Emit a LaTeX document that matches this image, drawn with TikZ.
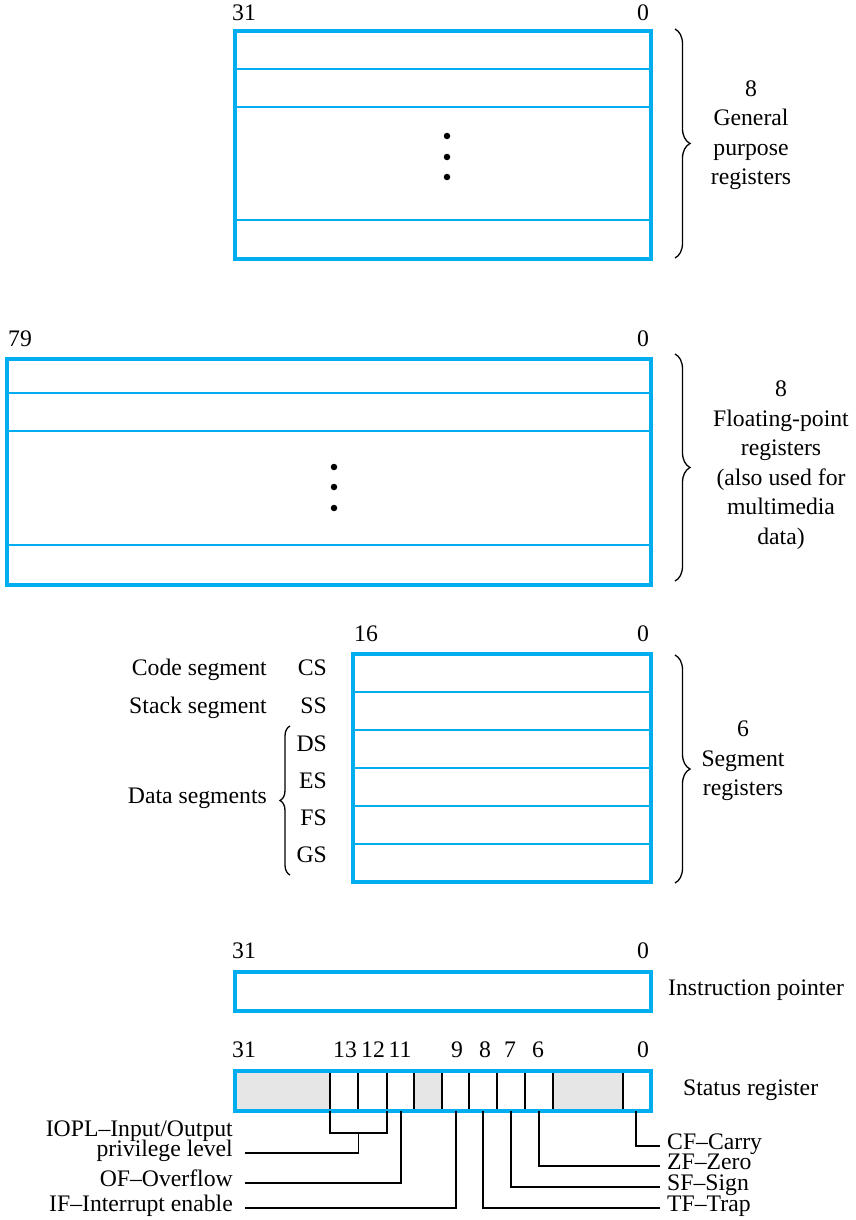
\documentclass[tikz,border=0pt]{standalone}
\usepackage{fontspec}
\setmainfont{Liberation Serif}
\usetikzlibrary{decorations.pathreplacing,calc}
\definecolor{regblue}{RGB}{0,174,239}
\definecolor{flaggray}{RGB}{230,230,230}
\begin{document}
\begin{tikzpicture}[x=1pt,y=-1pt,
  every node/.style={font=\fontsize{23.7}{29.5}\selectfont, inner sep=0pt},
  regframe/.style={draw=regblue, line width=4pt},
  regline/.style={draw=regblue, line width=1.6pt},
  divider/.style={draw=black, line width=1.3pt},
  lbl/.style={text height=0.68em, text depth=0pt},
  lead/.style={draw=black, line width=1.3pt},
  bracestyle/.style={decorate, decoration={brace, amplitude=15pt}, line width=1.3pt},
  dotmark/.style={circle, fill=black, minimum size=6.5pt, inner sep=0pt}
]
\useasboundingbox (0,0) rectangle (855,1220);

% ---------- General purpose registers ----------
\foreach \yy in {69,107,220} \draw[regline] (235,\yy) -- (651,\yy);
\draw[regframe] (235,31.5) rectangle (651,258.5);
\node[lbl] (g31) at (244,17) {31};
\node[lbl] (g0) at (643,17) {0};
\node[dotmark] (gd1) at (447,136) {};
\node[dotmark] (gd2) at (447,157) {};
\node[dotmark] (gd3) at (447,177) {};
\draw[bracestyle] (675,29) -- (675,258);
\node[align=center] (gtxt) at (751,135) {8\\General\\purpose\\registers};

% ---------- Floating-point registers ----------
\foreach \yy in {393,431,545} \draw[regline] (7,\yy) -- (651,\yy);
\draw[regframe] (7,359) rectangle (651,585);
\node[lbl] (f79) at (20,343) {79};
\node[lbl] (f0) at (643,343) {0};
\node[dotmark] (fd1) at (334,467) {};
\node[dotmark] (fd2) at (334,487) {};
\node[dotmark] (fd3) at (334,508) {};
\draw[bracestyle] (675,354) -- (675,581);
\node[align=center] (ftxt) at (781,465) {8\\Floating-point\\registers\\(also used for\\multimedia\\data)};

% ---------- Segment registers ----------
\foreach \yy in {692,730,768,806,844} \draw[regline] (353,\yy) -- (651,\yy);
\draw[regframe] (353,654) rectangle (651,882);
\node[lbl] (s16) at (366,638) {16};
\node[lbl] (s0l) at (643,638) {0};
\node[lbl, anchor=east] (cs) at (327,672) {CS};
\node[lbl, anchor=east] (ss) at (327,710) {SS};
\node[lbl, anchor=east] (ds) at (327,748) {DS};
\node[lbl, anchor=east] (es) at (327,785) {ES};
\node[lbl, anchor=east] (fs) at (327,822) {FS};
\node[lbl, anchor=east] (gs) at (327,859) {GS};
\node[lbl, anchor=east] (codeseg) at (267,672) {Code segment};
\node[lbl, anchor=east] (stackseg) at (267,710) {Stack segment};
\node[lbl, anchor=east] (dataseg) at (267,800) {Data segments};
\draw[bracestyle, decoration={amplitude=10pt}] (290,875) -- (290,726);
\draw[bracestyle] (675,655) -- (675,883);
\node[align=center] (stxt) at (743,761) {6\\Segment\\registers};

% ---------- Instruction pointer ----------
\draw[regframe] (235,972) rectangle (651,1011);
\node[lbl] (ip31) at (244,955) {31};
\node[lbl] (ip0) at (643,955) {0};
\node[lbl, anchor=west] (iptxt) at (668,992) {Instruction pointer};

% ---------- Status register ----------
\fill[flaggray] (235,1071) rectangle (330,1111);
\fill[flaggray] (414,1071) rectangle (442,1111);
\fill[flaggray] (553,1071) rectangle (623,1111);
\foreach \xx in {330,358,387,414,442,469,497,525,553,623}
  \draw[divider] (\xx,1071) -- (\xx,1111);
\draw[regframe] (235,1071) rectangle (651,1111);
\node[lbl] (b31) at (244,1054) {31};
\node[lbl] (b13) at (345,1054) {13};
\node[lbl] (b12) at (373,1054) {12};
\node[lbl] (b11) at (400,1054) {11};
\node[lbl] (b9) at (457,1054) {9};
\node[lbl] (b8) at (485,1054) {8};
\node[lbl] (b7) at (510,1054) {7};
\node[lbl] (b6) at (538,1054) {6};
\node[lbl] (b0) at (643,1054) {0};
\node[lbl, anchor=west] (sttxt) at (683,1092) {Status register};

% flag labels
\node[lbl, anchor=east] (lIOPLa) at (233,1133) {IOPL–Input/Output};
\node[lbl, anchor=east] (lIOPLb) at (233,1153) {privilege level};
\node[lbl, anchor=east] (lOF) at (233,1183) {OF–Overflow};
\node[lbl, anchor=east] (lIF) at (233,1208) {IF–Interrupt enable};
\node[lbl, anchor=west] (lCF) at (667,1146) {CF–Carry};
\node[lbl, anchor=west] (lZF) at (667,1166) {ZF–Zero};
\node[lbl, anchor=west] (lSF) at (667,1187) {SF–Sign};
\node[lbl, anchor=west] (lTF) at (667,1208) {TF–Trap};

% bit attachment points
\coordinate (f13) at (330,1111);
\coordinate (f12) at (387,1111);
\coordinate (f11) at (401,1111);
\coordinate (f9) at (456,1111);
\coordinate (f8) at (483,1111);
\coordinate (f7) at (511,1111);
\coordinate (f6) at (539,1111);
\coordinate (f0) at (636,1111);
\coordinate (iomid) at (358.5,1133);

% leader lines
\draw[lead] (f13) |- (iomid) -| (f12);
\draw[lead] (iomid) |- ([xshift=12pt]lIOPLb.east);
\draw[lead] (f11) |- ([xshift=12pt]lOF.east);
\draw[lead] (f9) |- ([xshift=12pt]lIF.east);
\draw[lead] (f8) |- ([xshift=-7pt]lTF.west);
\draw[lead] (f7) |- ([xshift=-7pt]lSF.west);
\draw[lead] (f6) |- ([xshift=-7pt]lZF.west);
\draw[lead] (f0) |- ([xshift=-7pt]lCF.west);
\end{tikzpicture}
\end{document}
